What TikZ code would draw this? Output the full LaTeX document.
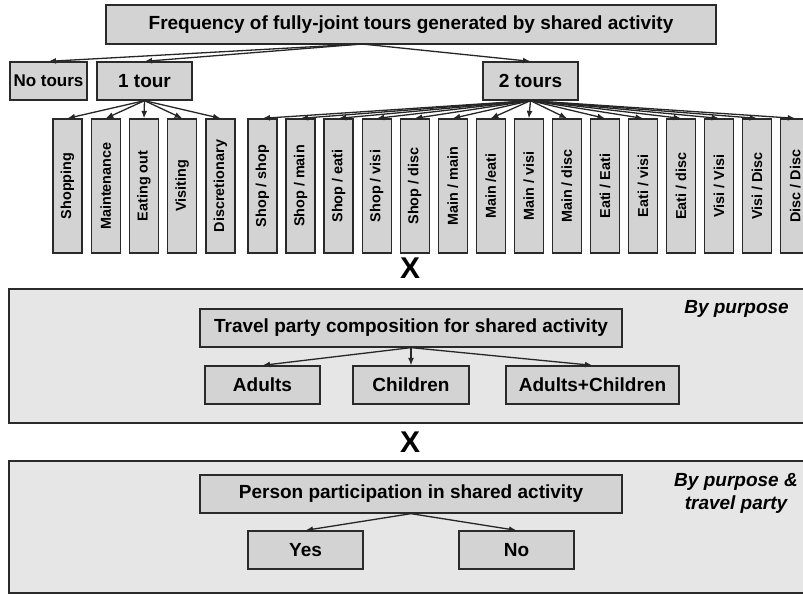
\documentclass[tikz,border=0pt]{standalone}
\usepackage{fontspec}
\setmainfont{Liberation Sans}
\usetikzlibrary{arrows.meta}
\definecolor{boxgray}{HTML}{D3D3D3}
\definecolor{panelgray}{HTML}{E6E6E6}
\definecolor{edge}{HTML}{2A2A2A}
\tikzset{
  box/.style={draw=edge, fill=boxgray, line width=1.3pt, inner sep=0pt,
    minimum height=38pt, font=\fontsize{19}{19}\selectfont\bfseries},
  leaf/.style={draw=edge, fill=boxgray, line width=1.3pt, inner sep=0pt,
    rotate=90, minimum width=134pt, minimum height=29pt,
    font=\fontsize{14.4}{14.4}\selectfont\bfseries},
  panel/.style={draw=edge, fill=panelgray, line width=1.3pt},
  arr/.style={-{Latex[length=7.5pt,width=6pt]}, line width=1.3pt, draw=black!85},
  times/.style={font=\fontsize{30}{30}\selectfont\bfseries, inner sep=0pt},
  note/.style={font=\fontsize{19}{23}\selectfont\bfseries\itshape, align=center, inner sep=0pt}
}
\begin{document}
\begin{tikzpicture}[x=1pt, y=-1pt]
\useasboundingbox (0,0) rectangle (803,594);
\clip (0,0) rectangle (803,594);

% tour frequency tree
\node[box, minimum width=610pt, minimum height=39pt] (freq) at (411,24.5)
  {Frequency of fully-joint tours generated by shared activity};
\coordinate (fsrc) at (362,44);
\node[box, minimum width=77pt, font=\fontsize{17}{17}\selectfont\bfseries] (none) at (48.5,81) {No tours};
\node[box, minimum width=95pt] (one) at (144.5,81) {1 tour};
\node[box, minimum width=95pt] (two) at (530.5,81) {2 tours};
\foreach \t in {none,one,two} \draw[arr] (fsrc) -- (\t.north);

% single-tour purposes
\foreach \lab [count=\i] in {Shopping,Maintenance,Eating out,Visiting,Discretionary} {
  \node[leaf] (l\i) at ({67.5+38.25*(\i-1)},186) {\lab};
  \draw[arr] (one.south) -- (l\i.east);
}

% two-tour purpose combinations
\foreach \lab [count=\i] in {Shop / shop,Shop / main,Shop / eati,Shop / visi,Shop / disc,
    Main / main,Main /eati,Main / visi,Main / disc,Eati / Eati,Eati / visi,Eati / disc,
    Visi / Visi,Visi / Disc,Disc / Disc} {
  \node[leaf] (t\i) at ({262.5+38.05*(\i-1)},186) {\lab};
  \draw[arr] (two.south) -- (t\i.east);
}

\node[times] (x1) at (410,268) {X};

% travel party panel
\node[panel, minimum width=797pt, minimum height=134pt, inner sep=0pt] (p1) at (407.5,356) {};
\node[note, anchor=east] (bp) at (789,309) {By purpose};
\node[box, minimum width=422pt] (party) at (411,328) {Travel party composition for shared activity};
\node[box, minimum width=115pt] (adu) at (262.5,385) {Adults};
\node[box, minimum width=116pt] (chi) at (411,385) {Children};
\node[box, minimum width=173pt] (mix) at (592.5,385) {Adults+Children};
\foreach \t in {adu,chi,mix} \draw[arr] (party.south) -- (\t.north);

\node[times] (x2) at (410,442) {X};

% participation panel
\node[panel, minimum width=797pt, minimum height=132pt, inner sep=0pt] (p2) at (407.5,527) {};
\node[note] (bpt) at (736,493.5) {By purpose \&\\travel party};
\node[box, minimum width=422pt] (part) at (411,494) {Person participation in shared activity};
\node[box, minimum width=115pt] (yes) at (305.5,550) {Yes};
\node[box, minimum width=115pt] (no) at (516.5,550) {No};
\foreach \t in {yes,no} \draw[arr] (part.south) -- (\t.north);
\end{tikzpicture}
\end{document}
